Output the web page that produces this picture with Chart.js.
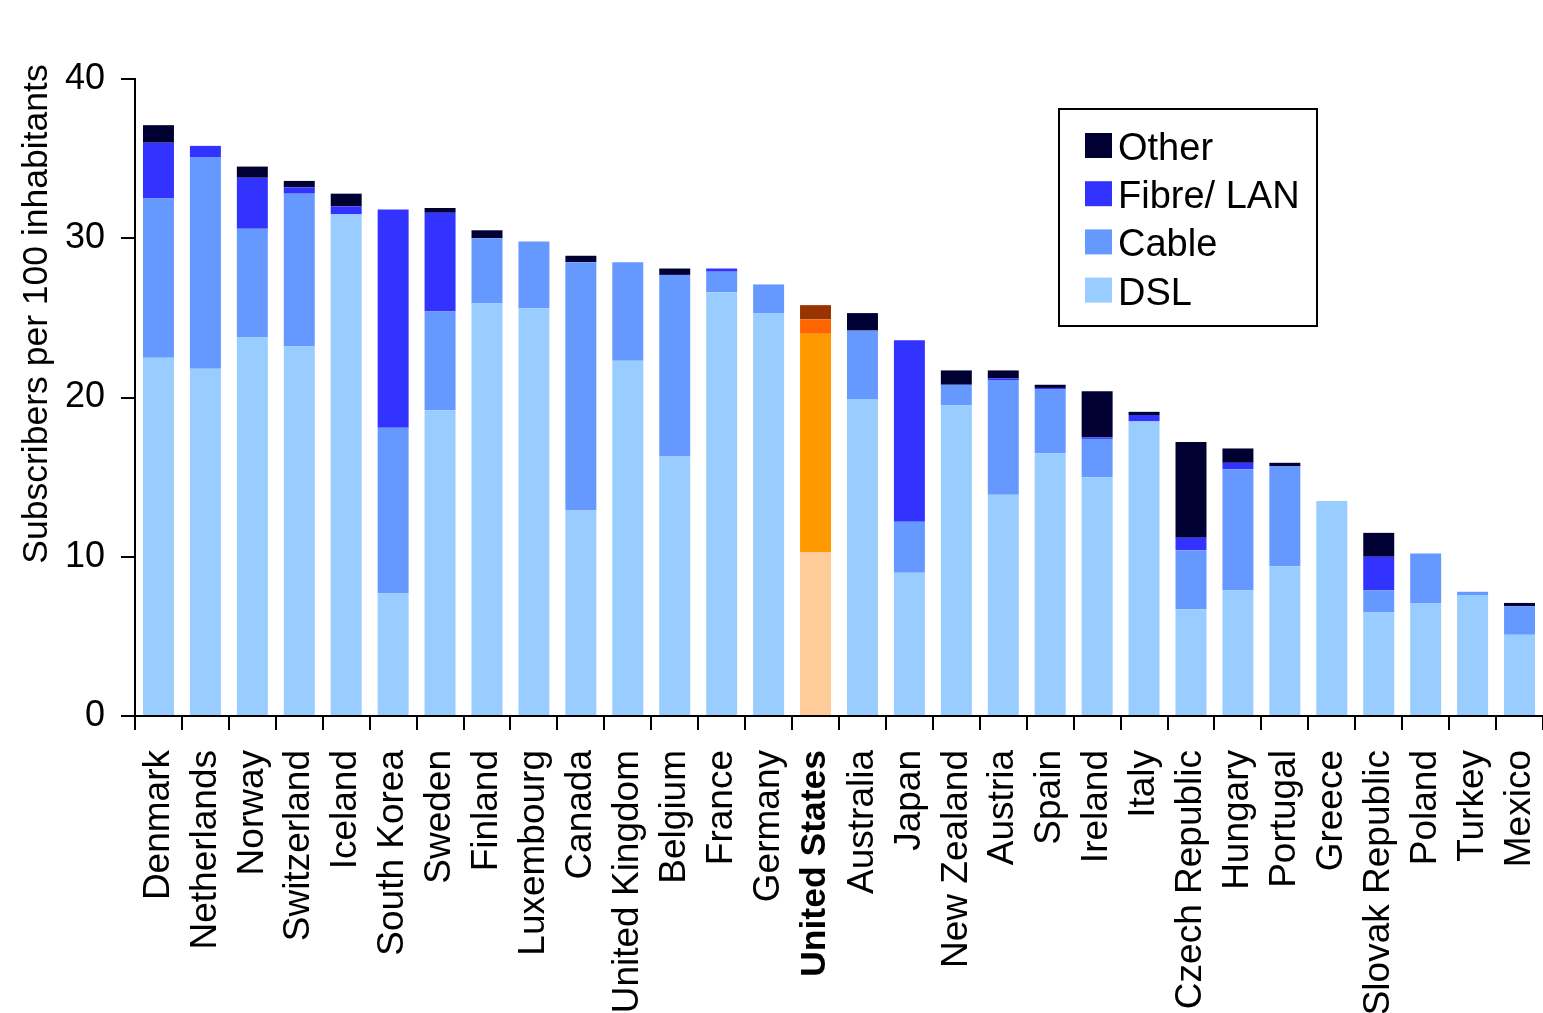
<!DOCTYPE html>
<html>
<head>
<meta charset="utf-8">
<title>Broadband subscribers per 100 inhabitants, by technology</title>
<script src="https://cdn.jsdelivr.net/npm/chart.js@4.4.0/dist/chart.umd.min.js"></script>
<style>
  html, body { margin: 0; padding: 0; background: #ffffff; overflow: hidden; }
  #c { display: block; }
</style>
</head>
<body>
<canvas id="c" width="1543" height="1013"></canvas>
<script>
// Countries, in descending order of total subscribers
const countries = [
  'Denmark', 'Netherlands', 'Norway', 'Switzerland', 'Iceland', 'South Korea',
  'Sweden', 'Finland', 'Luxembourg', 'Canada', 'United Kingdom', 'Belgium',
  'France', 'Germany', 'United States', 'Australia', 'Japan', 'New Zealand',
  'Austria', 'Spain', 'Ireland', 'Italy', 'Czech Republic', 'Hungary',
  'Portugal', 'Greece', 'Slovak Republic', 'Poland', 'Turkey', 'Mexico'
];

// Subscribers per 100 inhabitants, by technology
const dsl = [
  22.5, 21.8, 23.8, 23.2, 31.5, 7.7,
  19.2, 25.9, 25.6, 12.9, 22.3, 16.3,
  26.6, 25.3, 10.3, 19.9, 9.0, 19.5,
  13.9, 16.5, 15.0, 18.5, 6.7, 7.9,
  9.4, 13.5, 6.5, 7.1, 7.6, 5.1
];
const cable = [
  10.0, 13.3, 6.8, 9.6, 0, 10.4,
  6.2, 4.1, 4.2, 15.6, 6.2, 11.4,
  1.3, 1.8, 13.7, 4.3, 3.2, 1.3,
  7.2, 4.0, 2.4, 0, 3.7, 7.6,
  6.3, 0, 1.4, 3.1, 0.2, 1.8
];
const fibre = [
  3.5, 0.7, 3.2, 0.4, 0.5, 13.7,
  6.2, 0, 0, 0, 0, 0,
  0.2, 0, 0.9, 0, 11.4, 0,
  0.1, 0.1, 0.1, 0.4, 0.8, 0.4,
  0, 0, 2.1, 0, 0, 0
];
const other = [
  1.1, 0, 0.7, 0.4, 0.8, 0,
  0.3, 0.5, 0, 0.4, 0, 0.4,
  0, 0, 0.9, 1.1, 0, 0.9,
  0.5, 0.2, 2.9, 0.2, 6.0, 0.9,
  0.2, 0, 1.5, 0, 0, 0.2
];

const yTicks = [0, 10, 20, 30, 40];
const highlighted = 'United States';
const yTitle = 'Subscribers per 100 inhabitants';

const FONT = "'Liberation Sans', Arial, Helvetica, sans-serif";
const hiIndex = countries.indexOf(highlighted);

// Blue shades for every country, orange shades for the highlighted one
const series = [
  { label: 'DSL',        data: dsl,   color: '#99CCFF', hi: '#FFCC99' },
  { label: 'Cable',      data: cable, color: '#6699FF', hi: '#FF9900' },
  { label: 'Fibre/ LAN', data: fibre, color: '#3333FF', hi: '#FF6600' },
  { label: 'Other',      data: other, color: '#000033', hi: '#993300' }
];

// Legend box drawn inside the plot, top entry = top of the stack
const boxLegend = {
  id: 'boxLegend',
  afterDraw(chart) {
    const ctx = chart.ctx;
    ctx.save();
    ctx.strokeStyle = '#000000';
    ctx.lineWidth = 2;
    ctx.strokeRect(1059, 109, 258, 217);
    const rows = chart.data.datasets.slice().reverse();
    rows.forEach((ds, i) => {
      const top = 133 + i * 48.2;
      ctx.fillStyle = ds.swatch;
      ctx.fillRect(1085, top, 27, 25);
      ctx.fillStyle = '#000000';
      ctx.font = '38px ' + FONT;
      ctx.textAlign = 'left';
      ctx.textBaseline = 'alphabetic';
      ctx.fillText(ds.label, 1118, top + 27);
    });
    ctx.restore();
  }
};

// Vertical axis title
const axisTitle = {
  id: 'axisTitle',
  afterDraw(chart) {
    const ctx = chart.ctx;
    ctx.save();
    ctx.translate(37, 314);
    ctx.rotate(-Math.PI / 2);
    ctx.fillStyle = '#000000';
    ctx.font = '35.5px ' + FONT;
    ctx.textAlign = 'center';
    ctx.textBaseline = 'middle';
    ctx.fillText(yTitle, 0, 0);
    ctx.restore();
  }
};

new Chart(document.getElementById('c'), {
  type: 'bar',
  data: {
    labels: countries,
    datasets: series.map(s => ({
      label: s.label,
      data: s.data,
      swatch: s.color,
      backgroundColor: c => (c.dataIndex === hiIndex ? s.hi : s.color),
      borderWidth: 0,
      barPercentage: 0.66,
      categoryPercentage: 1.0
    }))
  },
  options: {
    responsive: false,
    animation: false,
    devicePixelRatio: 1,
    layout: { padding: { top: 79, right: 0, bottom: 0, left: 0 } },
    plugins: {
      legend: { display: false },
      tooltip: { enabled: false }
    },
    scales: {
      x: {
        stacked: true,
        offset: true,
        grid: {
          display: true,
          offset: true,
          drawOnChartArea: false,
          drawTicks: true,
          tickLength: 14,
          color: '#000000',
          lineWidth: 2
        },
        border: { display: true, color: '#000000', width: 2 },
        ticks: {
          autoSkip: false,
          minRotation: 90,
          maxRotation: 90,
          padding: 20,
          color: '#000000',
          font: c => (c.index === hiIndex
            ? { family: FONT, size: 35.5, weight: 'bold' }
            : { family: FONT, size: 37, weight: 'normal' })
        },
        afterFit(scale) {
          scale.height = 297;
          scale.paddingLeft = 0;
          scale.paddingRight = 0;
        }
      },
      y: {
        stacked: true,
        min: yTicks[0],
        max: yTicks[yTicks.length - 1],
        afterBuildTicks(scale) {
          scale.ticks = yTicks.map(v => ({ value: v }));
        },
        grid: {
          display: true,
          drawOnChartArea: false,
          drawTicks: true,
          tickLength: 14,
          color: '#000000',
          lineWidth: 2
        },
        border: { display: true, color: '#000000', width: 2 },
        ticks: {
          padding: 16,
          color: '#000000',
          font: { family: FONT, size: 36 }
        },
        title: { display: false },
        afterFit(scale) {
          scale.width = 135;
          scale.paddingTop = 0;
          scale.paddingBottom = 0;
        }
      }
    }
  },
  plugins: [boxLegend, axisTitle]
});
</script>
</body>
</html>
